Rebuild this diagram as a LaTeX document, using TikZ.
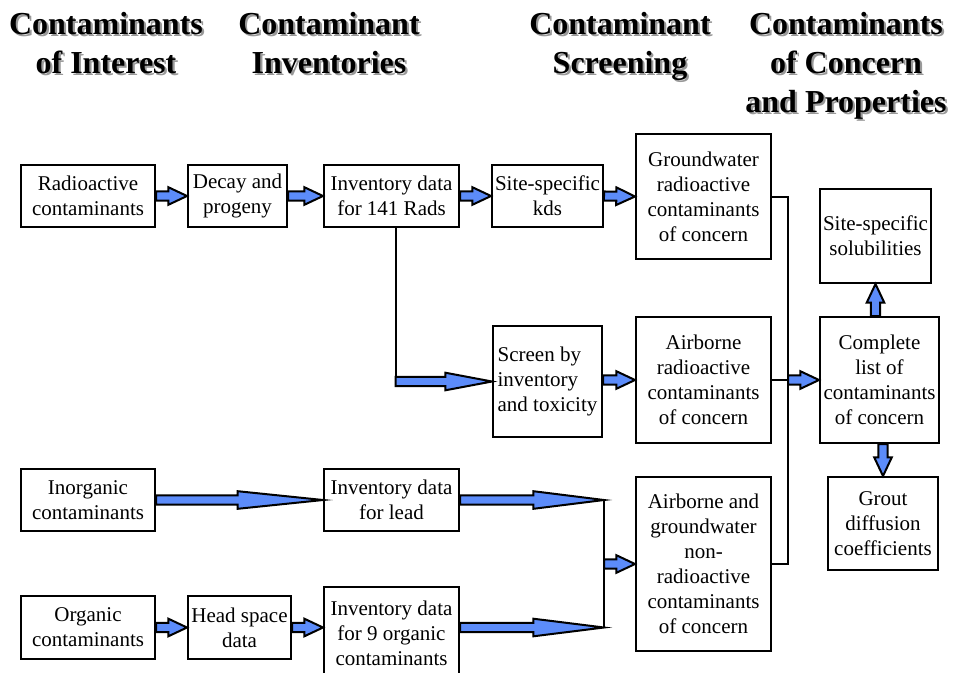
\documentclass[tikz,border=0pt]{standalone}
\usepackage{fontspec}
\setmainfont{Liberation Serif}
\usetikzlibrary{calc}

\definecolor{arrowblue}{RGB}{92,140,250}

% gray drop shadow behind the column titles
\newcommand{\shadowed}[1]{\leavevmode\rlap{\hspace{1.6pt}\raisebox{-1.6pt}{\color{black!40}#1}}#1}

% block arrow: [head length]{from}{to}
\newcommand{\fatarrow}[3][14pt]{%
  \coordinate (fa-a) at #2;
  \coordinate (fa-b) at #3;
  \coordinate (fa-h) at ($(fa-b)!#1!(fa-a)$);
  \filldraw[fatarrow] ($(fa-a)!3.4pt!90:(fa-b)$) -- ($(fa-h)!3.4pt!90:(fa-b)$)
    -- ($(fa-h)!6.6pt!90:(fa-b)$) -- (fa-b) -- ($(fa-h)!6.6pt!-90:(fa-b)$)
    -- ($(fa-h)!3.4pt!-90:(fa-b)$) -- ($(fa-a)!3.4pt!-90:(fa-b)$) -- cycle;
}

\begin{document}
\begin{tikzpicture}[x=0.75pt, y=-0.75pt]
\tikzstyle{hd}=[anchor=north, align=center, inner sep=0pt, font=\fontsize{24}{29.25}\selectfont\bfseries]
\tikzstyle{bx}=[draw, line width=1.5pt, align=center, inner sep=1pt, font=\fontsize{15.75}{18.75}\selectfont]
\tikzstyle{link}=[line width=1.5pt]
\tikzstyle{fatarrow}=[fill=arrowblue, draw=black, line width=1.5pt, line join=miter]

\useasboundingbox (0,0) rectangle (964,672);
\clip (0,0) rectangle (964,672);

% column titles
\node[hd] (h1) at (106,12) {\shadowed{Contaminants}\\\shadowed{of Interest}};
\node[hd] (h2) at (329,12) {\shadowed{Contaminant}\\\shadowed{Inventories}};
\node[hd] (h3) at (620,12) {\shadowed{Contaminant}\\\shadowed{Screening}};
\node[hd] (h4) at (846,12) {\shadowed{Contaminants}\\\shadowed{of Concern}\\\shadowed{and Properties}};

% radioactive branch
\node[bx, minimum width=100.5pt, minimum height=46.5pt] (rad) at (88,196) {Radioactive\\contaminants};
\node[bx, minimum width=74.25pt, minimum height=46.5pt] (decay) at (237.5,196) {Decay and\\progeny};
\node[bx, minimum width=101.25pt, minimum height=46.5pt] (inv141) at (391.5,196) {Inventory data\\for 141 Rads};
\node[bx, minimum width=83.25pt, minimum height=46.5pt] (kds) at (547.5,196) {Site-specific\\kds};
\node[bx, minimum width=101.25pt, minimum height=93.75pt] (gw) at (703.5,196.5) {Groundwater\\radioactive\\contaminants\\of concern};
\node[bx, align=left, minimum width=81.75pt, minimum height=83.25pt] (screen) at (547.5,381.5) {Screen by\\inventory\\and toxicity};
\node[bx, minimum width=101.25pt, minimum height=94.5pt] (air) at (703.5,380) {Airborne\\radioactive\\contaminants\\of concern};

% non-radioactive branch
\node[bx, minimum width=100.5pt, minimum height=46.5pt] (inorg) at (88,500) {Inorganic\\contaminants};
\node[bx, minimum width=101.25pt, minimum height=46.5pt] (lead) at (391.5,500) {Inventory data\\for lead};
\node[bx, minimum width=100.5pt, minimum height=47.25pt] (org) at (88,627.5) {Organic\\contaminants};
\node[bx, minimum width=77.25pt, minimum height=47.25pt] (head) at (239.5,627.5) {Head space\\data};
\node[bx, minimum width=101.25pt, minimum height=69.75pt] (inv9) at (391.5,633.5) {Inventory data\\for 9 organic\\contaminants};
\node[bx, minimum width=101.25pt, minimum height=130.5pt] (nonrad) at (703.5,564) {Airborne and\\groundwater\\non-\\radioactive\\contaminants\\of concern};

% properties
\node[bx, minimum width=83.25pt, minimum height=70.5pt] (sol) at (875.5,236) {Site-specific\\solubilities};
\node[bx, minimum width=89.25pt, minimum height=94.5pt] (complete) at (879.5,380) {Complete\\list of\\contaminants\\of concern};
\node[bx, minimum width=82.5pt, minimum height=69.75pt] (grout) at (883,523.5) {Grout\\diffusion\\coefficients};

% connectors
\coordinate (bend) at ([xshift=3pt]inv141.south |- screen.west);
\draw[link] ([xshift=3pt]inv141.south) -- (bend);

\coordinate (bus1) at ([xshift=12pt]gw.east);
\coordinate (bus2) at ([xshift=12pt]air.east);
\coordinate (bus3) at ([xshift=12pt]nonrad.east);
\draw[link] (gw.east) -- (bus1) -- (bus3) -- (nonrad.east);
\draw[link] (air.east) -- (bus2);

\coordinate (m1) at ([xshift=108pt]lead.east);
\coordinate (m2) at (m1 |- head.east);
\coordinate (m3) at (m1 |- nonrad.west);
\draw[link] (m1) -- (m2);

\fatarrow{(rad.east)}{(decay.west)}
\fatarrow{(decay.east)}{(inv141.west)}
\fatarrow{(inv141.east)}{(kds.west)}
\fatarrow{(kds.east)}{(gw.west)}
\fatarrow[35pt]{(bend)}{(screen.west)}
\fatarrow{(screen.east |- air.west)}{(air.west)}
\fatarrow[64pt]{(inorg.east)}{(lead.west)}
\fatarrow[53pt]{(lead.east)}{(m1)}
\fatarrow{(org.east)}{(head.west)}
\fatarrow{(head.east)}{(head.east -| inv9.west)}
\fatarrow[53pt]{(head.east -| inv9.east)}{(m2)}
\fatarrow{(m3)}{(nonrad.west)}
\fatarrow{(bus2)}{(complete.west)}
\fatarrow{(sol.south |- complete.north)}{(sol.south)}
\fatarrow{(grout.north |- complete.south)}{(grout.north)}
\end{tikzpicture}
\end{document}
